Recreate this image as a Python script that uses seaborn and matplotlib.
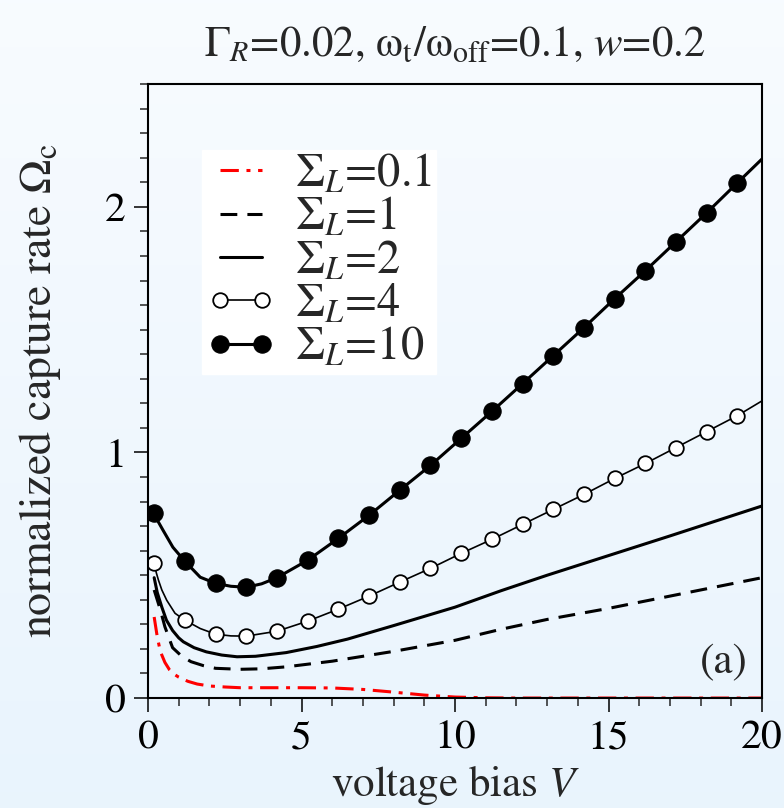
import numpy as np
import matplotlib
matplotlib.use("Agg")
import matplotlib.pyplot as plt
import seaborn as sns

# Capture rate vs. voltage bias for several Sigma_L values
V_01 = [0.2, 0.3, 0.4, 0.55, 0.7, 0.85, 1.0, 1.3, 1.6, 2.0, 2.5, 3, 4, 5, 6, 7, 8, 9, 10, 11,
        12, 14, 16, 18, 20]
O_01 = [0.33, 0.25, 0.19, 0.145, 0.115, 0.097, 0.085, 0.068, 0.057, 0.049, 0.045, 0.042, 0.042,
        0.042, 0.041, 0.035, 0.024, 0.012, 0.004, 0.001, 0, 0, 0, 0, 0]

V_1 = [0.2, 0.3, 0.4, 0.55, 0.8, 1.1, 1.4, 1.8, 2.2, 3, 3.7, 4.5, 6, 8, 10, 11.5, 13, 15, 17, 20]
O_1 = [0.44, 0.4, 0.36, 0.29, 0.205, 0.17, 0.148, 0.132, 0.121, 0.117, 0.119, 0.127, 0.15, 0.19,
       0.235, 0.28, 0.32, 0.365, 0.415, 0.49]

V_2 = [0.2, 0.3, 0.45, 0.6, 0.8, 1.0, 1.15, 1.5, 1.9, 2.4, 2.9, 3.5, 4.5, 5.5, 6.5, 8, 10, 11.5,
       13, 15, 17, 20]
O_2 = [0.49, 0.43, 0.37, 0.317, 0.275, 0.245, 0.229, 0.205, 0.188, 0.175, 0.168, 0.17, 0.185,
       0.21, 0.24, 0.295, 0.37, 0.437, 0.5, 0.58, 0.66, 0.782]

V_4 = [0.2, 0.27, 0.34, 0.45, 0.61, 0.88, 1.2, 1.7, 2.2, 2.7, 3.2, 4.2, 5.2, 6.2, 7.2, 8.2, 9.2,
       10.2, 11.2, 12.2, 13.2, 14.2, 15.2, 16.2, 17.2, 18.2, 19.2, 20]
O_4 = [0.549, 0.51, 0.48, 0.44, 0.398, 0.345, 0.317, 0.283, 0.26, 0.253, 0.252, 0.272, 0.313,
       0.362, 0.415, 0.472, 0.528, 0.589, 0.646, 0.707, 0.768, 0.829, 0.894, 0.955, 1.02, 1.085,
       1.15, 1.21]

V_10 = [0.2, 0.3, 0.49, 0.81, 1.2, 1.7, 2.2, 2.7, 3.2, 3.7, 4.2, 5.2, 6.2, 7.2, 8.2, 9.2, 10.2,
        11.2, 12.2, 13.2, 14.2, 15.2, 16.2, 17.2, 18.2, 19.2, 20]
O_10 = [0.752, 0.725, 0.683, 0.614, 0.557, 0.492, 0.467, 0.455, 0.451, 0.465, 0.49, 0.561, 0.65,
        0.744, 0.846, 0.947, 1.057, 1.167, 1.28, 1.394, 1.508, 1.626, 1.74, 1.858, 1.976, 2.098,
        2.195]

labels = [r"$\Sigma_L$=0.1", r"$\Sigma_L$=1", r"$\Sigma_L$=2", r"$\Sigma_L$=4", r"$\Sigma_L$=10"]
title = r"$\Gamma_R$=0.02, $\mathrm{\omega_{t}/\omega_{off}}$=0.1, $w$=0.2"


def marker_idx(xs):
    # symbols sit at V = 0.2, 1.2, 2.2, ...
    return [i for i, v in enumerate(xs) if v < 20 and abs((v - 0.2) - round(v - 0.2)) < 1e-6]


sns.set_theme(style="ticks")
plt.rcParams["font.family"] = ["STIXGeneral", "DejaVu Serif"]
plt.rcParams["mathtext.fontset"] = "stix"

fig = plt.figure(figsize=(7.84, 8.08), dpi=100)

# soft vertical gradient behind everything
bg = fig.add_axes([0, 0, 1, 1], zorder=-10)
top_c = np.array([0.972, 0.986, 1.0])
bot_c = np.array([0.914, 0.957, 0.992])
t = np.linspace(0, 1, 256)[:, None, None]
grad = top_c * (1 - t) + bot_c * t
bg.imshow(np.repeat(grad, 2, axis=1), aspect="auto", extent=[0, 1, 0, 1], origin="upper")
bg.axis("off")

ax = fig.add_axes([0.1888, 0.1361, 0.7832, 0.7599])
ax.set_facecolor("none")

lw = 2.2
sns.lineplot(x=V_01, y=O_01, ax=ax, color="red", lw=lw, estimator=None,
             linestyle=(0, (6, 2.5, 1.3, 2.5)), label=labels[0])
sns.lineplot(x=V_1, y=O_1, ax=ax, color="black", lw=lw, estimator=None,
             linestyle=(0, (5.5, 3.3)), label=labels[1])
sns.lineplot(x=V_2, y=O_2, ax=ax, color="black", lw=lw, estimator=None, label=labels[2])
sns.lineplot(x=V_4, y=O_4, ax=ax, color="black", lw=1.2, estimator=None, marker="o",
             markersize=10.5, markerfacecolor="white", markeredgecolor="black",
             markeredgewidth=1.3, markevery=marker_idx(V_4), label=labels[3])
sns.lineplot(x=V_10, y=O_10, ax=ax, color="black", lw=lw, estimator=None, marker="o",
             markersize=12.5, markerfacecolor="black", markeredgecolor="black",
             markevery=marker_idx(V_10), label=labels[4])

ax.set_xlim(0, 20)
ax.set_ylim(0, 2.5)
ax.set_xticks([0, 5, 10, 15, 20])
ax.set_xticks(np.arange(0, 21, 1), minor=True)
ax.set_yticks([0, 1, 2])
ax.set_yticks(np.arange(0, 2.51, 0.1), minor=True)
ax.tick_params(which="major", direction="out", length=10, width=1.1, labelsize=30, pad=6,
               colors="black", top=False, right=False)
ax.tick_params(which="minor", direction="out", length=6, width=1.1, top=False, right=False)
for s in ax.spines.values():
    s.set_linewidth(1.5)
    s.set_color("black")
    s.set_visible(True)

ax.set_xlabel(r"voltage bias $V$", fontsize=31, labelpad=4)
ax.set_ylabel(r"normalized capture rate $\Omega_{\rm c}$", fontsize=33, labelpad=30)
fig.text(0.58, 0.944, title, fontsize=30.8, ha="center", va="center")
ax.text(0.977, 0.057, "(a)", transform=ax.transAxes, fontsize=31, ha="right", va="center")

leg = ax.legend(loc="upper left", bbox_to_anchor=(0.088, 0.893), fontsize=33.5, frameon=True,
                fancybox=False, framealpha=1, edgecolor="white", facecolor="white",
                handlelength=1.5, handletextpad=0.42, labelspacing=0.0, borderpad=0.08,
                borderaxespad=0.0, numpoints=2)

fig.savefig("out.png", dpi=100)
